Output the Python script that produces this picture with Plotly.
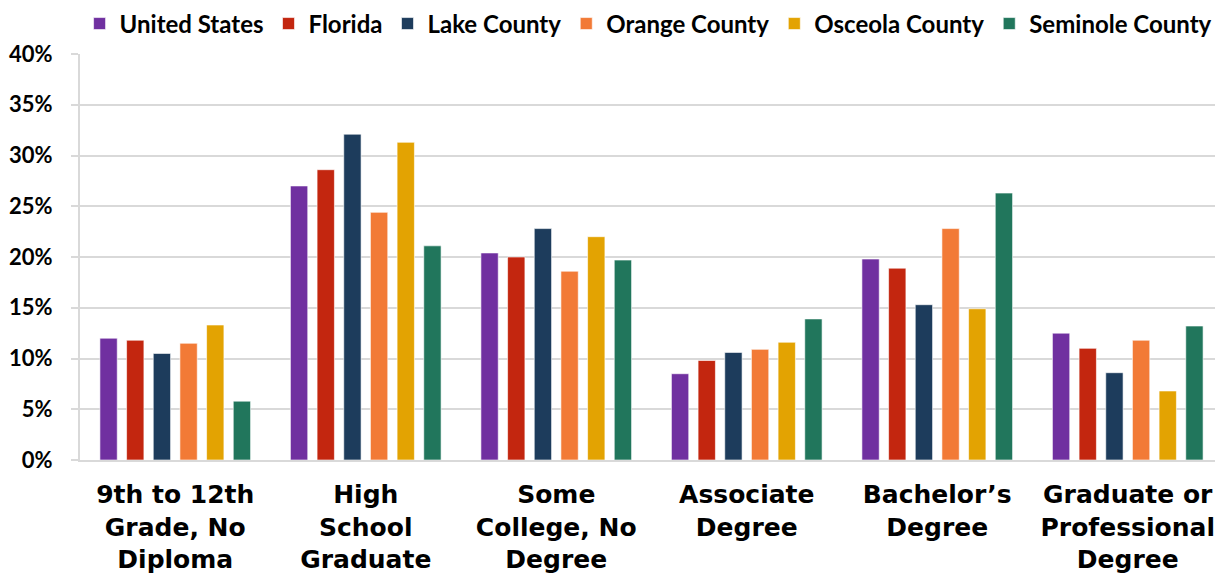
import plotly.graph_objects as go

categories = [
    "9th to 12th<br>Grade, No<br>Diploma",
    "High<br>School<br>Graduate",
    "Some<br>College, No<br>Degree",
    "Associate<br>Degree",
    "Bachelor’s<br>Degree",
    "Graduate or<br>Professional<br>Degree",
]
series_names = ["United States", "Florida", "Lake County", "Orange County", "Osceola County", "Seminole County"]
united_states = [12.0, 27.0, 20.4, 8.5, 19.8, 12.5]
florida = [11.8, 28.6, 20.0, 9.8, 18.9, 11.0]
lake_county = [10.5, 32.1, 22.8, 10.6, 15.3, 8.6]
orange_county = [11.5, 24.4, 18.6, 10.9, 22.8, 11.8]
osceola_county = [13.3, 31.3, 22.0, 11.6, 14.9, 6.8]
seminole_county = [5.8, 21.1, 19.7, 13.9, 26.3, 13.2]
colors = ["#7030A0", "#C3260F", "#1D3C5C", "#F27A36", "#E3A302", "#21765C"]
y_ticks = [0, 5, 10, 15, 20, 25, 30, 35, 40]
y_tick_labels = ["0%", "5%", "10%", "15%", "20%", "25%", "30%", "35%", "40%"]

values = [united_states, florida, lake_county, orange_county, osceola_county, seminole_county]

fig = go.Figure()
for name, vals, col in zip(series_names, values, colors):
    fig.add_trace(go.Bar(
        x=categories, y=vals, name="<b>%s</b>" % name,
        marker=dict(color=col, line=dict(color="rgba(255,255,255,0.6)", width=1)),
    ))

fig.update_layout(
    width=1223, height=579,
    barmode="group", bargap=0.16, bargroupgap=0.35,
    plot_bgcolor="white", paper_bgcolor="white",
    margin=dict(l=72, r=8, t=46, b=127, autoexpand=False),
    font=dict(family="Lato", color="#000000"),
    showlegend=True,
)
fig.update_layout(legend=dict(
    orientation="h", x=0.497, xanchor="center",
    y=1.074, yanchor="middle",
    font=dict(size=24, family="Lato", color="#000000"),
    traceorder="normal", itemwidth=30,
))
fig.update_yaxes(
    range=[0, 40], tickmode="array", tickvals=y_ticks,
    ticktext=["<b>%s</b>" % t for t in y_tick_labels],
    showgrid=True, gridcolor="#D9D9D9", gridwidth=2,
    showline=True, linecolor="#D9D9D9", linewidth=2,
    zeroline=False,
    tickfont=dict(size=22, family="Lato"),
    ticks="outside", ticklen=7, tickcolor="#D9D9D9", tickwidth=2,
    ticklabelstandoff=14,
)
fig.update_xaxes(
    showline=True, linecolor="#D9D9D9", linewidth=2,
    tickmode="array", tickvals=categories,
    ticktext=["<b>%s</b>" % c for c in categories],
    tickfont=dict(size=25, family="DejaVu Sans"),
    ticks="", tickangle=0, ticklabelstandoff=11,
)

fig.write_html("out.html")
